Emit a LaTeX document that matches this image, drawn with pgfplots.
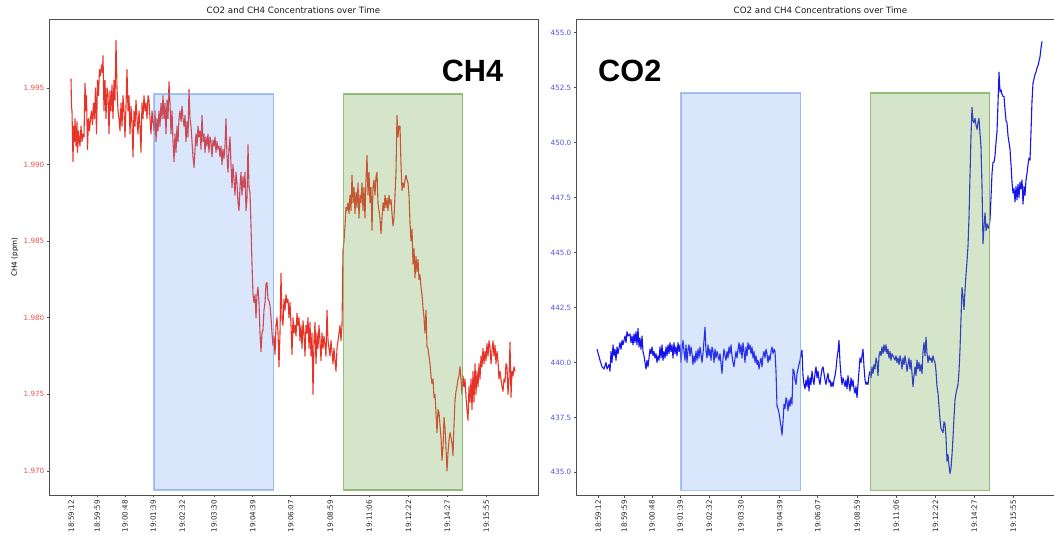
\documentclass[border=0pt]{standalone}
\usepackage{fontspec}
\setmainfont{DejaVu Sans}
\newfontfamily\bigfont{Liberation Sans}
\usepackage{pgfplots}
\pgfplotsset{compat=1.18}
\definecolor{ch4line}{RGB}{232,52,40}
\definecolor{co2line}{RGB}{20,20,235}
\definecolor{ch4tick}{RGB}{238,80,80}
\definecolor{co2tick}{RGB}{80,80,240}
\definecolor{bluebox}{RGB}{100,149,237}
\definecolor{greenbox}{RGB}{115,170,80}
\definecolor{spine}{RGB}{80,80,80}
\pgfplotsset{
  common/.style={
    width=489pt, height=476pt, scale only axis,
    xmin=49, xmax=538,
    axis line style={spine, line width=0.7pt},
    tick align=outside, major tick length=2.5pt,
    xtick pos=bottom, ytick pos=left,
    tick style={spine, line width=0.6pt},
    xtick={71.3,97.3,125,153.2,182.3,214,252.7,290.7,330.2,369.3,408.5,447.3,486.3},
    xticklabels={18:59:12,18:59:59,19:00:48,19:01:39,19:02:32,19:03:30,19:04:39,19:06:07,19:08:59,19:11:06,19:12:22,19:14:27,19:15:55},
    xticklabel style={rotate=90, anchor=east, font=\fontsize{7.2}{8}\selectfont, text=black!85, inner sep=2.5pt},
    yticklabel style={font=\fontsize{7.2}{8}\selectfont, inner sep=2pt},
    /pgf/number format/assume math mode=true,
    scaled y ticks=false,
    title={CO2 and CH4 Concentrations over Time},
    every axis title shift=0pt,
    title style={at={(axis description cs:0.5,1)}, anchor=base, yshift=5pt, font=\fontsize{8.7}{10}\selectfont, text=black!90},
  }
}
\begin{document}
\begin{tikzpicture}
\useasboundingbox (0,0) rectangle (1054pt,541pt);
% ---------------- CH4 -----------------
\begin{axis}[common, at={(49pt,46pt)}, anchor=south west,
  ymin=1.96843, ymax=1.9995,
  ytick={1.970,1.975,1.980,1.985,1.990,1.995},
  yticklabel style={text=ch4tick, /pgf/number format/fixed, /pgf/number format/precision=3, /pgf/number format/fixed zerofill},
  ylabel={CH4 (ppm)},
  ylabel style={at={(axis description cs:-0.0695,0.5)}, anchor=center, rotate=0, font=\fontsize{7.2}{8}\selectfont, text=black},
]
\addplot[ch4line, line width=1.1pt, line join=round] coordinates {
(71,1.9956) (71.5,1.9938) (72,1.9935) (72.5,1.9918) (73,1.9902) (73.7,1.9925) (74.5,1.9915) (75,1.9930) (76,1.9912) (77,1.9928) (77.5,1.9908) (78.5,1.9922) (79.5,1.9914) (80,1.9912) (81,1.9925) (82,1.9915) (83,1.9920) (84,1.9918) (85,1.9953) (86,1.9935) (86.5,1.9945) (87.5,1.9910) (88.5,1.9930) (89.5,1.9922) (90.5,1.9930) (91.5,1.9935) (92.5,1.9926) (93.5,1.9940) (94.5,1.9930) (95.5,1.9950) (96.5,1.9920) (97.5,1.9955) (98.5,1.9945) (99.5,1.9962) (100.5,1.9958) (101.5,1.9965) (102.5,1.9960) (103,1.9971) (104,1.9935) (105,1.9955) (106,1.9930) (107,1.9950) (108,1.9946) (109,1.9920) (110,1.9948) (111,1.9935) (112,1.9952) (113,1.9930) (114,1.9955) (115,1.9942) (116,1.9981) (117,1.9950) (118,1.9935) (119,1.9930) (120,1.9922) (121,1.9940) (122,1.9925) (123,1.9945) (124,1.9935) (125,1.9918) (126,1.9938) (127,1.9962) (128,1.9935) (129,1.9945) (130,1.9920) (131,1.9938) (132,1.9928) (133,1.9905) (134,1.9935) (135,1.9925) (136,1.9942) (137,1.9930) (138,1.9920) (139,1.9935) (140,1.9925) (141,1.9908) (142,1.9940) (143,1.9930) (144,1.9945) (145,1.9935) (146,1.9940) (147,1.9930) (148,1.9945) (149,1.9942) (150,1.9930) (151,1.9920) (152,1.9935) (153,1.9928) (154,1.9922)
(155,1.9935) (156,1.9915) (157,1.9930) (158,1.9922) (159,1.9935) (160,1.9925) (161,1.9940) (162,1.9930) (163,1.9945) (164,1.9930) (165,1.9940) (166,1.9920) (167,1.9942) (168,1.9930) (169,1.9954) (170,1.9940) (171,1.9920) (172,1.9935) (173,1.9915) (174,1.9902) (175,1.9920) (176,1.9908) (177,1.9925) (178,1.9915) (179,1.9930) (180,1.9935) (181,1.9928) (182,1.9938) (183,1.9930) (184,1.9925) (185,1.9932) (186,1.9915) (187,1.9928) (188,1.9918) (189,1.9949) (190,1.9930) (191,1.9925) (192,1.9915) (193,1.9905) (194,1.9898) (195,1.9910) (196,1.9920) (197,1.9912) (198,1.9925) (199,1.9918) (200,1.9922) (201,1.9910) (202,1.9932) (203,1.9915) (204,1.9920) (205,1.9908) (206,1.9918) (207,1.9912) (208,1.9920) (209,1.9908) (210,1.9918) (211,1.9915) (212,1.9905) (213,1.9916) (214,1.9912) (215,1.9918) (216,1.9908) (217,1.9915) (218,1.9910) (219,1.9912) (220,1.9905) (221,1.9912) (222,1.9900) (223,1.9910) (224,1.9904) (225,1.9912) (226,1.9930) (227,1.9905) (228,1.9895) (229,1.9910) (230,1.9918) (231,1.9900) (232,1.9885) (233,1.9900) (234,1.9890) (235,1.9880) (236,1.9895) (237,1.9888) (238,1.9875) (239,1.9870) (240,1.9885) (241,1.9895) (242,1.9880) (243,1.9892) (244,1.9885) (245,1.9895) (246,1.9870) (247,1.9878) (248,1.9913) (249,1.9885) (250,1.9882) (251,1.9860) (252,1.9835) (253,1.9815) (254,1.9810) (255,1.9815) (256,1.9800) (257,1.9815) (258,1.9820) (259,1.9810) (260,1.9790) (261,1.9778) (262,1.9790) (263,1.9792) (264,1.9805) (265,1.9810) (266,1.9822) (267,1.9823) (268,1.9812) (269,1.9811) (270,1.9808) (271,1.9800) (272,1.9790) (273,1.9782) (274,1.9788)
(275,1.9776) (276,1.9795) (277,1.9800) (278,1.9790) (279,1.9768) (280,1.9790) (281,1.9829) (282,1.9800) (283,1.9795) (284,1.9812) (285,1.9805) (286,1.9815) (287,1.9810) (288,1.9812) (289,1.9800) (290,1.9810) (291,1.9795) (292,1.9776) (293,1.9800) (294,1.9790) (295,1.9795) (296,1.9788) (297,1.9803) (298,1.9795) (299,1.9800) (300,1.9785) (301,1.9795) (302,1.9780) (303,1.9798) (304,1.9790) (305,1.9775) (306,1.9795) (307,1.9790) (308,1.9800) (309,1.9780) (310,1.9797) (311,1.9775) (312,1.9790) (313,1.9750) (314,1.9785) (315,1.9797) (316,1.9770) (317,1.9790) (318,1.9780) (319,1.9795) (320,1.9785) (321,1.9772) (322,1.9790) (323,1.9780) (324,1.9788) (325,1.9782) (326,1.9775) (327,1.9805) (328,1.9785) (329,1.9780) (330,1.9775) (331,1.9785) (332,1.9778) (333,1.9770) (334,1.9780) (335,1.9772) (336,1.9765) (337,1.9780) (338,1.9785) (339,1.9790) (340,1.9795) (341,1.9785) (342,1.9795) (343,1.9844) (344,1.9850) (345,1.9860) (346,1.9872) (347,1.9870) (348,1.9875) (349,1.9868) (350,1.9880) (351,1.9870) (352,1.9893) (353,1.9875) (354,1.9885) (355,1.9868) (356,1.9882) (357,1.9872) (358,1.9888) (359,1.9865) (360,1.9880) (361,1.9875) (362,1.9888) (363,1.9870) (364,1.9885) (365,1.9865) (366,1.9890) (367,1.9906) (368,1.9880) (369,1.9895) (370,1.9875) (371,1.9885) (372,1.9857) (373,1.9885) (374,1.9890) (375,1.9880) (376,1.9892) (377,1.9895) (378,1.9875) (379,1.9870) (380,1.9865) (381,1.9855) (382,1.9865) (383,1.9875) (384,1.9870) (385,1.9880) (386,1.9872) (387,1.9878) (388,1.9870) (389,1.9880) (390,1.9874) (391,1.9877) (392,1.9868) (393,1.9860) (394,1.9865) (395,1.9880) (396,1.9895) (397,1.9932) (398,1.9918) (399,1.9925) (400,1.9925) (401,1.9900) (402,1.9883) (403,1.9888) (404,1.9885) (405,1.9890) (406,1.9893) (407,1.9890) (408,1.9888) (409,1.9880) (410,1.9862) (411,1.9850) (412,1.9858) (413,1.9835) (414,1.9845) (415,1.9826) (416,1.9840) (417,1.9830) (418,1.9838) (419,1.9825) (420,1.9828) (421,1.9820) (422,1.9815) (423,1.9807) (424,1.9800) (425,1.9790) (426,1.9805) (427,1.9781) (428,1.9780) (429,1.9775) (430,1.9770) (431,1.9762) (432,1.9757) (433,1.9760) (434,1.9748) (435,1.9750) (436,1.9738) (437,1.9725) (438,1.9740) (439,1.9738) (440,1.9730) (441,1.9722) (442,1.9707) (443,1.9715) (444,1.9735) (445,1.9728) (446,1.9715) (447,1.9700) (448,1.9712) (449,1.9720) (450,1.9725) (451,1.9722) (452,1.9718) (453,1.9710) (454,1.9730) (455,1.9746) (456,1.9752) (457,1.9755) (458,1.9760) (459,1.9762) (460,1.9768) (461,1.9760) (462,1.9750) (463,1.9762) (464,1.9755) (465,1.9760) (466,1.9748) (467,1.9740) (468,1.9733) (469,1.9755) (470,1.9745) (471,1.9760) (472,1.9740) (473,1.9765) (474,1.9745) (475,1.9770) (476,1.9750) (477,1.9765) (478,1.9755) (479,1.9770) (480,1.9760) (481,1.9775) (482,1.9768) (483,1.9780) (484,1.9770) (485,1.9778) (486,1.9772) (487,1.9783) (488,1.9775) (489,1.9785) (490,1.9781) (491,1.9770) (492,1.9778) (493,1.9785) (494,1.9775) (495,1.9782) (496,1.9770) (497,1.9778) (498,1.9772) (499,1.9760) (500,1.9765) (501,1.9760) (502,1.9755) (503,1.9752) (504,1.9760) (505,1.9758) (506,1.9770) (507,1.9768) (508,1.9750) (509,1.9760) (510,1.9784) (511,1.9748) (512,1.9765) (513,1.9762) (514,1.9768) (515,1.9765)
};
\fill[bluebox, fill opacity=0.24] (axis cs:154,1.96876) rectangle (axis cs:273.5,1.9946);
\draw[bluebox, draw opacity=0.55, line width=1.3pt] (axis cs:154,1.96876) rectangle (axis cs:273.5,1.9946);
\fill[greenbox, fill opacity=0.30] (axis cs:343.5,1.96876) rectangle (axis cs:462.5,1.9946);
\draw[greenbox, draw opacity=0.75, line width=1.3pt] (axis cs:343.5,1.96876) rectangle (axis cs:462.5,1.9946);
\node[font=\bigfont\bfseries\fontsize{30.7}{32}\selectfont, inner sep=0pt, anchor=center] at (axis description cs:0.866,0.891) {CH4};
\end{axis}
% ---------------- CO2 -----------------
\begin{axis}[common, at={(576pt,46pt)}, anchor=south west,
  ymin=433.97, ymax=455.62,
  ytick={435,437.5,440,442.5,445,447.5,450,452.5,455},
  yticklabel style={text=co2tick, /pgf/number format/fixed, /pgf/number format/precision=1, /pgf/number format/fixed zerofill},
]
\addplot[co2line, line width=1.1pt, line join=round] coordinates {
(70,440.6) (73,440.1) (75,439.8) (77,439.7) (79,440.0) (80,439.7) (82,439.9) (83,439.6) (84,440.5) (85,440.0) (86,440.8) (87,440.3) (88,440.6) (89,440.1) (90,440.7) (91,440.4) (93,440.9) (94,440.6) (95,441.0) (96,440.8) (98,441.2) (99,440.9) (100,441.4) (101,441.2) (103,441.3) (104,440.9) (105,441.2) (106,440.8) (107,441.3) (108,440.9) (109,441.4) (110,440.8) (111,441.55) (112,440.7) (113,441.1) (114,440.6) (115,441.2) (116,440.5) (117,440.3) (118,440.0) (119,439.7) (120,440.1) (121,439.8) (122,440.2) (123,440.6) (124,440.4) (125,440.7) (126,440.3) (127,440.5) (128,440.2) (129,440.4) (130,440.0) (131,440.3) (132,440.1) (133,440.7) (134,440.2) (135,440.8) (136,440.1) (137,440.5) (138,440.2) (139,440.7) (140,440.3) (141,440.8) (142,440.4) (143,440.9) (144,440.5) (145,440.8) (146,440.2) (147,440.9) (148,440.4) (149,440.7) (150,440.3) (151,440.9) (152,440.5) (153,440.8)
(154,440.0) (155,440.6) (156,441.0) (157,440.5) (158,440.1) (159,440.8) (160,440.0) (161,440.6) (162,440.8) (163,440.3) (164,440.7) (165,440.4) (166,439.9) (167,440.3) (168,440.0) (169,440.5) (170,440.1) (171,440.6) (172,440.2) (173,440.7) (174,440.4) (175,440.0) (176,440.4) (178,441.6) (179,440.5) (180,440.2) (181,440.8) (182,440.3) (183,440.6) (184,440.1) (185,440.7) (186,440.5) (187,440.0) (188,440.6) (189,440.2) (190,440.5) (191,440.3) (192,440.1) (193,440.4) (195,439.5) (196,440.2) (197,440.6) (198,440.3) (199,440.1) (200,440.5) (201,440.2) (202,440.7) (203,440.4) (204,440.8) (205,440.3) (206,440.0) (207,439.8) (208,440.2) (209,440.5) (210,440.2) (211,440.6) (212,440.9) (213,440.4) (214,440.8) (215,440.2) (216,440.9) (217,440.5) (218,440.0) (219,440.7) (220,440.3) (221,440.9) (222,440.6) (223,440.8) (224,440.4) (225,440.7) (226,440.2) (227,440.5) (228,440.0) (229,440.3) (230,439.9) (231,440.1) (232,439.7) (233,440.0) (234,440.2) (235,439.8) (236,440.3) (237,440.5) (238,440.2) (239,440.6) (240,440.4) (241,440.0) (242,440.3) (243,440.1) (244,440.5) (245,440.7) (246,440.4) (247,440.6) (248,440.5) (249,439.6) (250,438.0) (251,437.9) (252,437.7) (253,437.4) (254,437.1) (255,436.7) (256,437.3) (257,438.1) (258,437.9) (259,438.4) (260,438.2) (261,437.8) (262,438.3) (263,438.0) (264,438.4) (265,438.1) (266,439.7) (267,439.6) (268,439.2) (269,439.0) (270,439.5) (271,439.7) (272,439.9) (273,440.1)
(274,440.4) (275,440.55) (276,439.4) (277,439.0) (278,438.8) (279,439.2) (280,438.9) (281,439.4) (282,438.7) (283,439.3) (284,439.0) (285,439.6) (286,439.2) (287,439.0) (288,439.5) (289,439.8) (290,439.3) (291,439.6) (292,439.2) (293,439.0) (294,439.4) (295,439.7) (296,439.8) (297,439.5) (298,439.2) (299,439.0) (300,439.3) (301,439.5) (302,439.1) (303,439.2) (304,438.9) (305,439.1) (306,438.9) (307,439.2) (308,439.4) (309,439.7) (310,440.2) (311,440.5) (312,441.0) (313,440.0) (314,439.4) (315,439.0) (316,439.3) (317,439.1) (318,438.9) (319,439.2) (320,438.8) (321,439.4) (322,439.0) (323,438.7) (324,439.3) (325,438.9) (326,439.2) (327,438.8) (328,438.6) (329,438.9) (330,438.4) (331,439.0) (332,439.6) (333,440.2) (334,440.0) (335,440.3) (336,440.6) (337,439.8) (338,439.2) (339,439.0) (340,439.1) (341,439.0) (342,439.4)
(343,439.6) (344,439.3) (345,439.8) (346,439.5) (347,439.9) (348,439.7) (349,440.2) (350,440.0) (351,439.4) (352,440.3) (353,440.5) (354,440.3) (355,440.7) (356,440.4) (357,440.8) (358,440.5) (359,440.8) (360,440.4) (361,440.6) (362,440.2) (363,440.5) (364,440.1) (365,440.4) (366,440.3) (367,440.2) (368,440.1) (369,440.3) (370,440.0) (371,440.2) (372,439.9) (373,440.3) (374,440.1) (375,439.7) (376,440.2) (377,439.9) (378,440.3) (379,440.0) (380,439.6) (381,439.9) (382,440.2) (383,439.7) (384,440.1) (385,439.5) (386,438.9) (387,439.4) (388,439.8) (389,439.4) (390,440.1) (391,439.7) (392,440.0) (393,439.6) (394,439.9) (395,439.5) (396,440.5) (397,440.9) (398,440.3) (399,441.15) (400,440.4) (401,440.0) (402,440.3) (403,440.1) (404,440.2) (405,440.0) (406,440.3) (407,440.1) (408,440.0) (409,439.6) (410,438.9) (411,438.6) (412,438.0) (413,437.4) (414,437.0) (415,436.9) (416,436.8) (417,437.3) (418,437.2) (419,436.6) (420,435.5) (421,435.8) (422,435.3) (423,434.95) (424,435.2) (425,435.8) (426,436.6) (427,437.5) (428,438.3) (429,438.6) (430,438.8) (431,439.0) (432,439.6) (433,440.6) (434,442.0) (435,443.4) (436,443.0) (437,442.4) (438,443.3) (439,444.0) (440,444.6) (441,445.3) (442,446.6) (443,448.5) (444,450.3) (445,451.6) (446,451.0) (447,450.9) (448,451.1) (449,450.8) (450,450.6) (451,450.9) (452,451.1) (453,450.4) (454,449.8) (455,448.0) (456,445.4) (457,446.2) (458,446.8) (459,446.0) (460,446.3) (461,446.1) (462,446.2)
(463,446.5) (464,447.5) (465,448.6) (466,449.1) (467,449.1) (468,449.4) (469,450.0) (470,450.5) (471,451.8) (472,453.2) (473,452.3) (474,452.4) (475,452.2) (476,452.1) (477,452.1) (478,451.5) (479,451.0) (480,450.9) (481,450.3) (482,450.0) (483,449.7) (484,449.0) (485,448.2) (486,447.7) (487,447.9) (488,447.3) (489,448.0) (490,447.4) (491,448.1) (492,447.5) (493,448.2) (494,447.9) (495,448.3) (496,447.2) (497,448.0) (498,447.6) (499,448.3) (500,448.6) (501,449.0) (502,449.3) (503,449.2) (504,450.5) (505,451.9) (506,452.7) (507,452.9) (508,453.1) (509,453.2) (510,453.4) (511,453.5) (512,453.7) (513,453.9) (514,454.3) (515,454.6)
};
\fill[bluebox, fill opacity=0.24] (axis cs:154,434.19) rectangle (axis cs:273.5,452.26);
\draw[bluebox, draw opacity=0.55, line width=1.3pt] (axis cs:154,434.19) rectangle (axis cs:273.5,452.26);
\fill[greenbox, fill opacity=0.30] (axis cs:343.5,434.19) rectangle (axis cs:462.5,452.26);
\draw[greenbox, draw opacity=0.75, line width=1.3pt] (axis cs:343.5,434.19) rectangle (axis cs:462.5,452.26);
\node[font=\bigfont\bfseries\fontsize{30.7}{32}\selectfont, inner sep=0pt, anchor=center] at (axis description cs:0.110,0.891) {CO2};
\end{axis}
\end{tikzpicture}
\end{document}
